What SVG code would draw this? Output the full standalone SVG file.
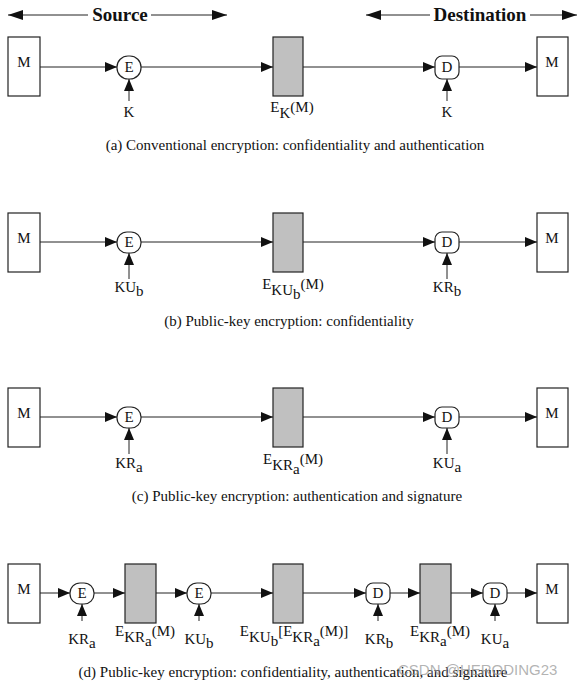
<svg xmlns="http://www.w3.org/2000/svg" width="577" height="687" viewBox="0 0 577 687">
<style>
  text { font-family: "Liberation Serif", "Times New Roman", serif; font-size: 15px; fill: #111; }
  .hdr { font-size: 19px; font-weight: bold; }
  .box { fill: #fff; stroke: #222; stroke-width: 1.2; }
  .msg { fill: #c0c0c0; stroke: #222; stroke-width: 1.2; }
  .op { fill: #fff; stroke: #222; stroke-width: 1.2; }
  .ln { stroke: #222; stroke-width: 1; fill: none; }
  .c { text-anchor: middle; }
  .wm { font-family: "Liberation Sans", Arial, sans-serif; font-size: 15px; fill: #9a9a9a; fill-opacity: 0.75; }
</style>
<defs>
  <marker id="ah" markerUnits="userSpaceOnUse" markerWidth="12" markerHeight="10" refX="12" refY="5" orient="auto">
    <path d="M0,0 L12,5 L0,10 z" fill="#111"/>
  </marker>
  <marker id="hh" markerUnits="userSpaceOnUse" markerWidth="15" markerHeight="10" refX="15" refY="5" orient="auto">
    <path d="M0,0 L15,5 L0,10 z" fill="#111"/>
  </marker>
  <marker id="hs" markerUnits="userSpaceOnUse" markerWidth="15" markerHeight="10" refX="0" refY="5" orient="auto">
    <path d="M15,0 L0,5 L15,10 z" fill="#111"/>
  </marker>
</defs>

<!-- Header -->
<g id="hdr-source">
  <line class="ln" x1="8" y1="15" x2="88" y2="15" marker-start="url(#hs)"/>
  <line class="ln" x1="151" y1="15" x2="227" y2="15" marker-end="url(#hh)"/>
  <text class="hdr c" x="120" y="21">Source</text>
</g>
<g id="hdr-dest">
  <line class="ln" x1="366" y1="15" x2="430" y2="15" marker-start="url(#hs)"/>
  <line class="ln" x1="530" y1="15" x2="577" y2="15" marker-end="url(#hh)"/>
  <text class="hdr c" x="480" y="21">Destination</text>
</g>

<!-- Row (a) -->
<g id="a-m1"><rect class="box" x="8" y="37" width="32" height="59"/><text class="c" x="24" y="67">M</text></g>
<g id="a-e"><rect class="op" x="117" y="56" width="24" height="23" rx="11"/><text class="c" x="129" y="72">E</text></g>
<g id="a-c"><rect class="msg" x="273" y="37" width="30" height="59"/>
  <text class="c" x="292" y="112">E<tspan dy="6">K</tspan><tspan dy="-6">(M)</tspan></text></g>
<g id="a-d"><rect class="op" x="435" y="56" width="24" height="23" rx="7"/><text class="c" x="447" y="72">D</text></g>
<g id="a-m2"><rect class="box" x="537" y="37" width="31" height="59"/><text class="c" x="552" y="67">M</text></g>
<g id="a-k1"><text class="c" x="129" y="117">K</text></g>
<g id="a-k2"><text class="c" x="447" y="117">K</text></g>
<text class="c" x="295" y="150">(a) Conventional encryption: confidentiality and authentication</text>

<!-- Row (b) -->
<g id="b-m1"><rect class="box" x="8" y="213" width="32" height="59"/><text class="c" x="24" y="243">M</text></g>
<g id="b-e"><rect class="op" x="117" y="232" width="24" height="21" rx="10"/><text class="c" x="129" y="247">E</text></g>
<g id="b-c"><rect class="msg" x="273" y="213" width="30" height="59"/>
  <text class="c" x="293" y="289">E<tspan dy="6">KU</tspan><tspan dy="4">b</tspan><tspan dy="-10">(M)</tspan></text></g>
<g id="b-d"><rect class="op" x="435" y="232" width="24" height="21" rx="7"/><text class="c" x="447" y="247">D</text></g>
<g id="b-m2"><rect class="box" x="537" y="213" width="31" height="59"/><text class="c" x="552" y="243">M</text></g>
<g id="b-k1"><text class="c" x="129" y="292">KU<tspan dy="4">b</tspan></text></g>
<g id="b-k2"><text class="c" x="447" y="292">KR<tspan dy="4">b</tspan></text></g>
<text class="c" x="289" y="326">(b) Public-key encryption: confidentiality</text>

<!-- Row (c) -->
<g id="c-m1"><rect class="box" x="8" y="388" width="32" height="59"/><text class="c" x="24" y="418">M</text></g>
<g id="c-e"><rect class="op" x="117" y="407" width="24" height="21" rx="10"/><text class="c" x="129" y="422">E</text></g>
<g id="c-c"><rect class="msg" x="273" y="388" width="30" height="59"/>
  <text class="c" x="293" y="464">E<tspan dy="6">KR</tspan><tspan dy="4">a</tspan><tspan dy="-10">(M)</tspan></text></g>
<g id="c-d"><rect class="op" x="435" y="407" width="24" height="21" rx="7"/><text class="c" x="447" y="422">D</text></g>
<g id="c-m2"><rect class="box" x="537" y="388" width="31" height="59"/><text class="c" x="552" y="418">M</text></g>
<g id="c-k1"><text class="c" x="129" y="468">KR<tspan dy="4">a</tspan></text></g>
<g id="c-k2"><text class="c" x="447" y="468">KU<tspan dy="4">a</tspan></text></g>
<text class="c" x="297" y="501">(c) Public-key encryption: authentication and signature</text>

<!-- Row (d) -->
<g id="d-m1"><rect class="box" x="8" y="564" width="32" height="59"/><text class="c" x="24" y="594">M</text></g>
<g id="d-e1"><rect class="op" x="70" y="583" width="24" height="21" rx="10"/><text class="c" x="82" y="598">E</text></g>
<g id="d-c1"><rect class="msg" x="125" y="564" width="31" height="59"/>
  <text class="c" x="145" y="636">E<tspan dy="6">KR</tspan><tspan dy="4">a</tspan><tspan dy="-10">(M)</tspan></text></g>
<g id="d-e2"><rect class="op" x="187" y="583" width="24" height="21" rx="10"/><text class="c" x="199" y="598">E</text></g>
<g id="d-c2"><rect class="msg" x="273" y="564" width="30" height="59"/>
  <text class="c" x="294" y="636">E<tspan dy="6">KU</tspan><tspan dy="4">b</tspan><tspan dy="-10">[E</tspan><tspan dy="6">KR</tspan><tspan dy="4">a</tspan><tspan dy="-10">(M)]</tspan></text></g>
<g id="d-d1"><rect class="op" x="366" y="583" width="24" height="21" rx="7"/><text class="c" x="378" y="598">D</text></g>
<g id="d-c3"><rect class="msg" x="420" y="564" width="31" height="59"/>
  <text class="c" x="440" y="636">E<tspan dy="6">KR</tspan><tspan dy="4">a</tspan><tspan dy="-10">(M)</tspan></text></g>
<g id="d-d2"><rect class="op" x="483" y="583" width="24" height="21" rx="7"/><text class="c" x="495" y="598">D</text></g>
<g id="d-m2"><rect class="box" x="537" y="564" width="31" height="59"/><text class="c" x="552" y="594">M</text></g>
<g id="d-k1"><text class="c" x="82" y="644">KR<tspan dy="4">a</tspan></text></g>
<g id="d-k2"><text class="c" x="199" y="644">KU<tspan dy="4">b</tspan></text></g>
<g id="d-k3"><text class="c" x="379" y="644">KR<tspan dy="4">b</tspan></text></g>
<g id="d-k4"><text class="c" x="495" y="644">KU<tspan dy="4">a</tspan></text></g>
<text class="c" x="293" y="677">(d) Public-key encryption: confidentiality, authentication, and signature</text>

<!-- Connectors -->
<g id="connectors">
  <!-- a -->
  <line class="ln" x1="40" y1="67" x2="117" y2="67" marker-end="url(#ah)"/>
  <line class="ln" x1="141" y1="67" x2="273" y2="67" marker-end="url(#ah)"/>
  <line class="ln" x1="303" y1="67" x2="435" y2="67" marker-end="url(#ah)"/>
  <line class="ln" x1="459" y1="67" x2="537" y2="67" marker-end="url(#ah)"/>
  <line class="ln" x1="129" y1="101" x2="129" y2="79" marker-end="url(#ah)"/>
  <line class="ln" x1="447" y1="101" x2="447" y2="79" marker-end="url(#ah)"/>
  <!-- b -->
  <line class="ln" x1="40" y1="242" x2="117" y2="242" marker-end="url(#ah)"/>
  <line class="ln" x1="141" y1="242" x2="273" y2="242" marker-end="url(#ah)"/>
  <line class="ln" x1="303" y1="242" x2="435" y2="242" marker-end="url(#ah)"/>
  <line class="ln" x1="459" y1="242" x2="537" y2="242" marker-end="url(#ah)"/>
  <line class="ln" x1="129" y1="279" x2="129" y2="253" marker-end="url(#ah)"/>
  <line class="ln" x1="447" y1="279" x2="447" y2="253" marker-end="url(#ah)"/>
  <!-- c -->
  <line class="ln" x1="40" y1="417" x2="117" y2="417" marker-end="url(#ah)"/>
  <line class="ln" x1="141" y1="417" x2="273" y2="417" marker-end="url(#ah)"/>
  <line class="ln" x1="303" y1="417" x2="435" y2="417" marker-end="url(#ah)"/>
  <line class="ln" x1="459" y1="417" x2="537" y2="417" marker-end="url(#ah)"/>
  <line class="ln" x1="129" y1="454" x2="129" y2="428" marker-end="url(#ah)"/>
  <line class="ln" x1="447" y1="454" x2="447" y2="428" marker-end="url(#ah)"/>
  <!-- d -->
  <line class="ln" x1="40" y1="593" x2="70" y2="593" marker-end="url(#ah)"/>
  <line class="ln" x1="94" y1="593" x2="125" y2="593" marker-end="url(#ah)"/>
  <line class="ln" x1="156" y1="593" x2="187" y2="593" marker-end="url(#ah)"/>
  <line class="ln" x1="211" y1="593" x2="273" y2="593" marker-end="url(#ah)"/>
  <line class="ln" x1="303" y1="593" x2="366" y2="593" marker-end="url(#ah)"/>
  <line class="ln" x1="390" y1="593" x2="420" y2="593" marker-end="url(#ah)"/>
  <line class="ln" x1="451" y1="593" x2="483" y2="593" marker-end="url(#ah)"/>
  <line class="ln" x1="507" y1="593" x2="537" y2="593" marker-end="url(#ah)"/>
  <line class="ln" x1="82" y1="621" x2="82" y2="604" marker-end="url(#ah)"/>
  <line class="ln" x1="199" y1="621" x2="199" y2="604" marker-end="url(#ah)"/>
  <line class="ln" x1="378" y1="621" x2="378" y2="604" marker-end="url(#ah)"/>
  <line class="ln" x1="495" y1="621" x2="495" y2="604" marker-end="url(#ah)"/>
</g>

<text class="wm" x="398" y="675">CSDN @HERODING23</text>
</svg>
